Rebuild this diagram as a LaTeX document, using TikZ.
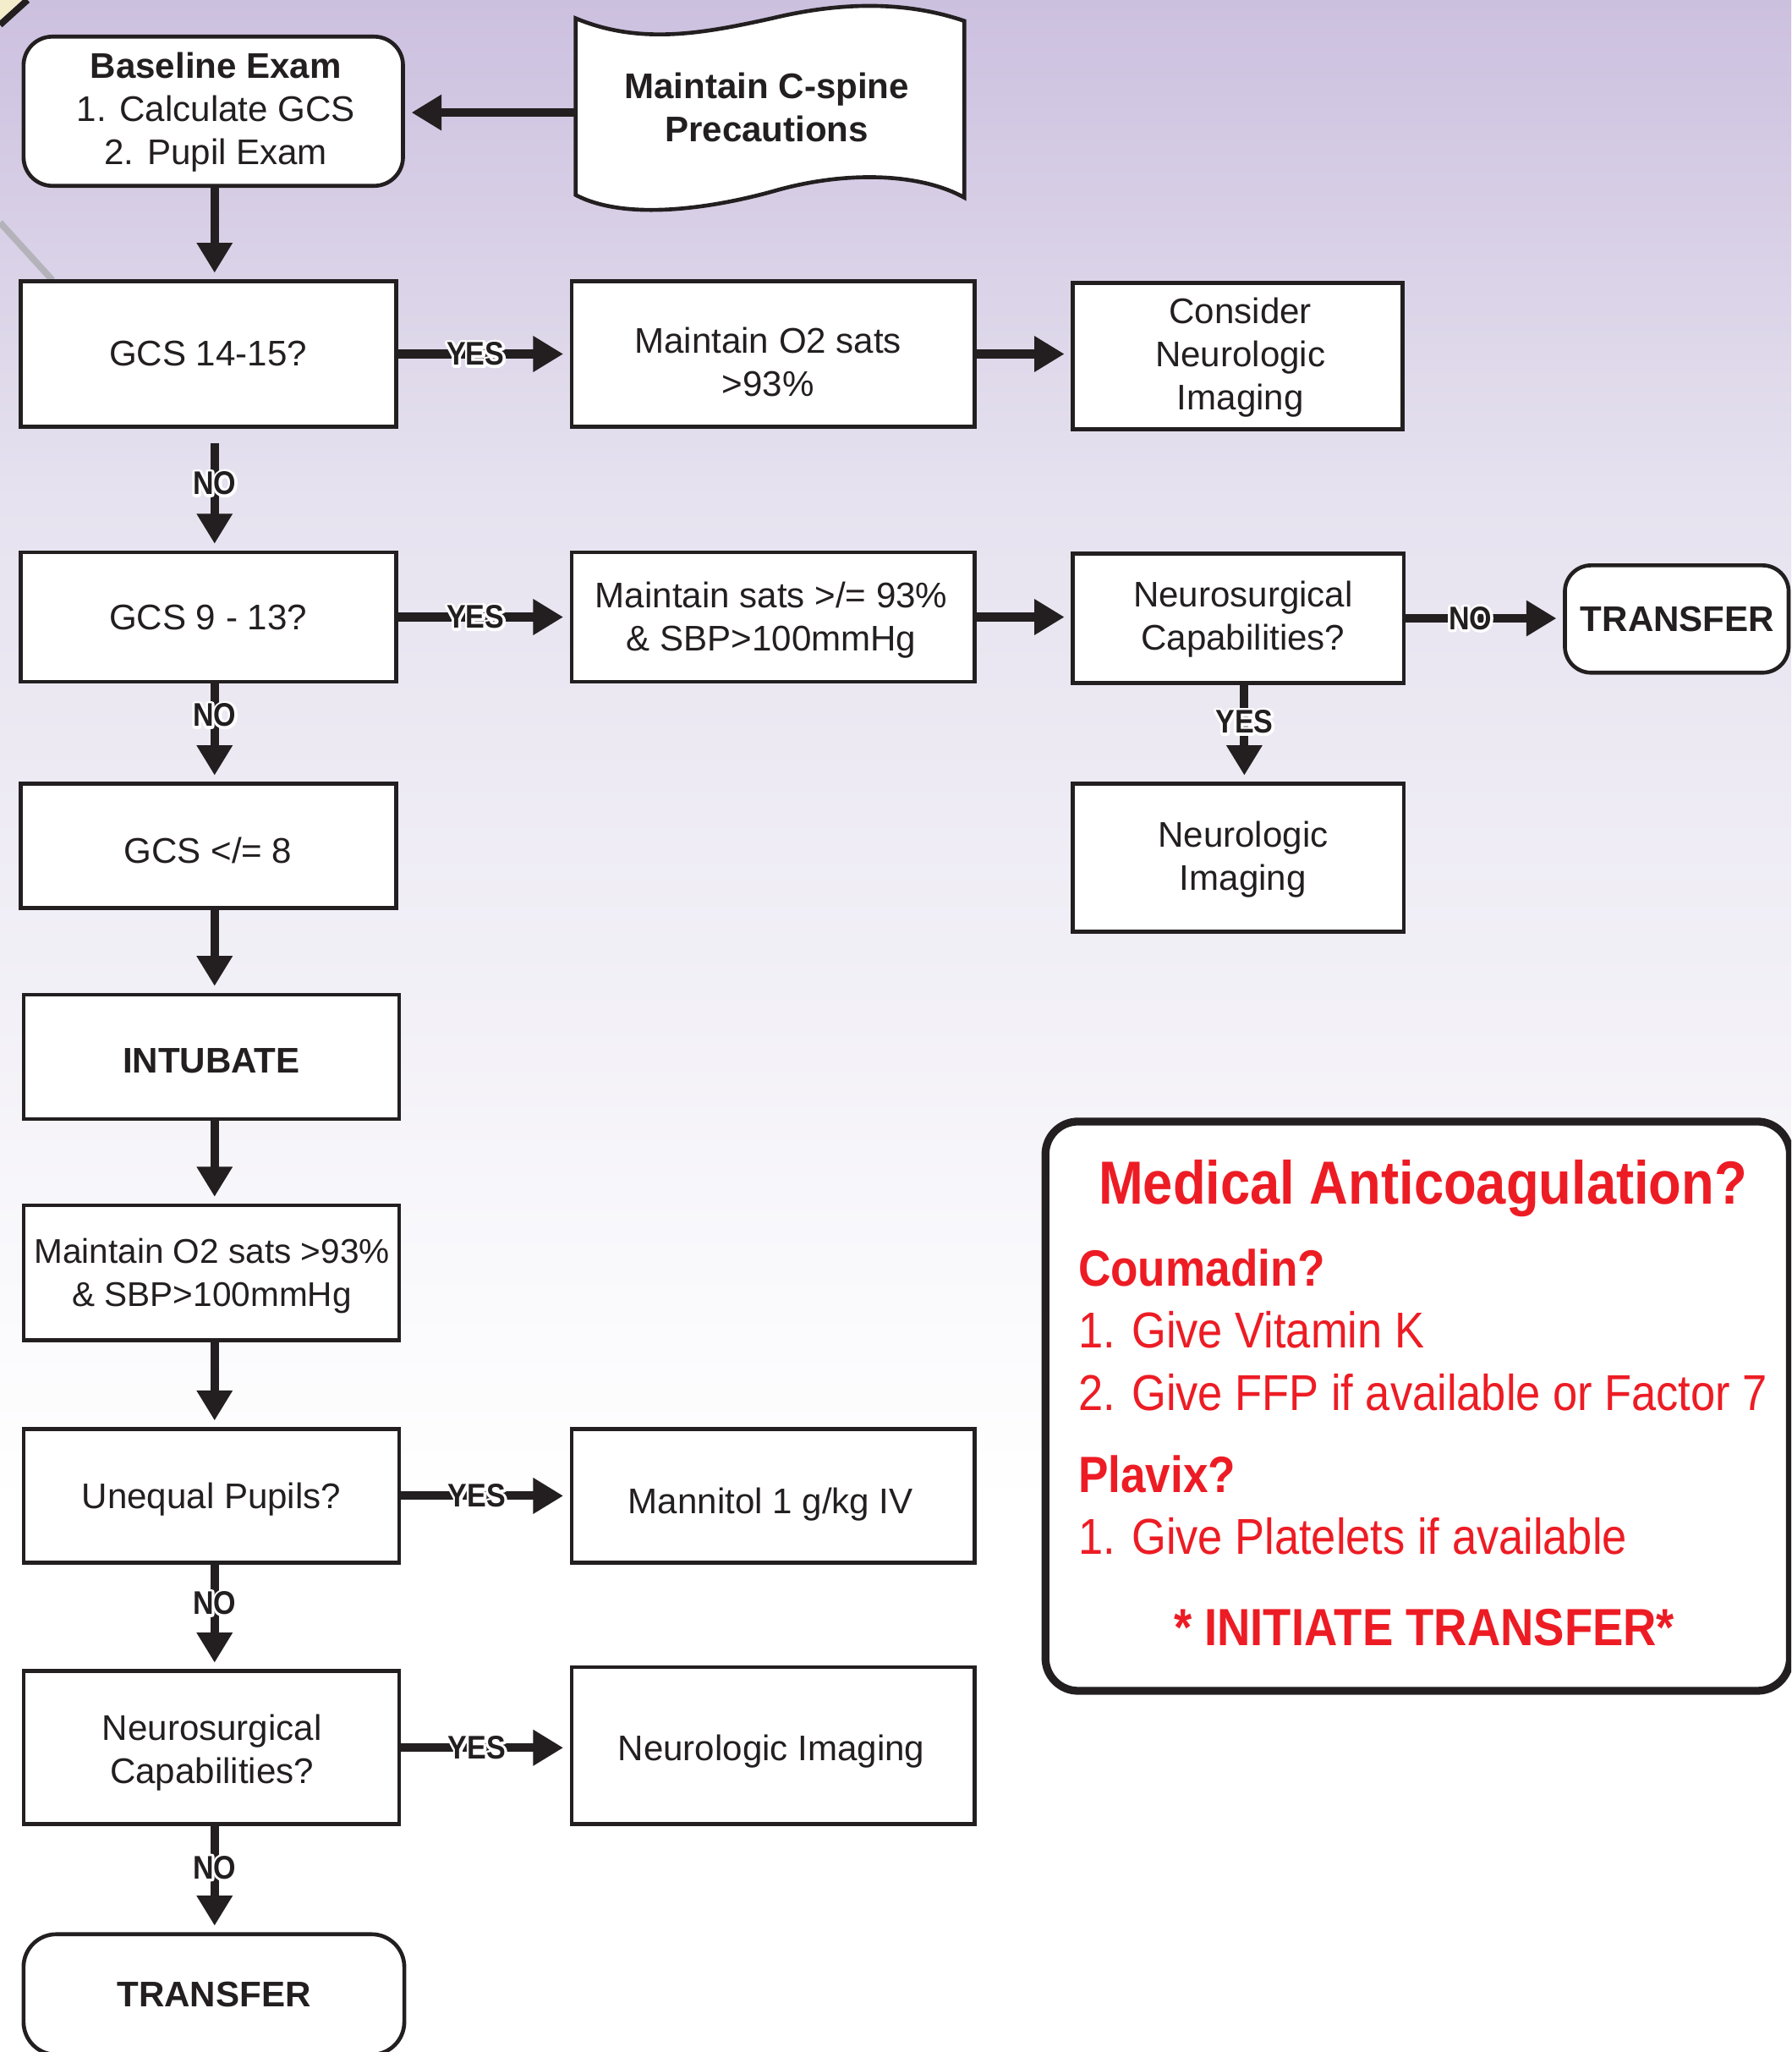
\documentclass[tikz,border=0pt]{standalone}
\usepackage{fontspec}
\setmainfont{Liberation Sans}
\newfontfamily\condfont[FakeStretch=0.88]{Liberation Sans}
\usetikzlibrary{arrows.meta,calc}
\definecolor{ink}{HTML}{231F20}
\definecolor{redtxt}{HTML}{ED1C24}
\definecolor{lavtop}{HTML}{CCC0DF}
\definecolor{lavmid}{HTML}{E6E2EF}
\definecolor{cream}{HTML}{F3EDCB}
\definecolor{greyline}{HTML}{B5B3BA}
% white outline (halo) behind a label: one stroked white copy, then the text
\newcommand\halotxt[1]{\makebox[0pt][l]{\color{white}\special{pdf:literal direct 2 Tr 4 w 1 j}#1\special{pdf:literal direct 0 Tr}}#1}
\tikzset{
 boxshape/.style={draw=ink, line width=3pt, fill=white, inner sep=0pt},
 rboxshape/.style={boxshape, rounded corners=22pt},
 btext/.style={text=ink, align=center, font=\fontsize{27.2}{33}\selectfont, inner sep=0pt},
 bbold/.style={btext, font=\bfseries\fontsize{27.2}{33}\selectfont},
 arr/.style={draw=ink, line width=6.5pt, -{Triangle[length=23pt,width=26pt]}, shorten >=5pt},
 lab/.style={text=ink, font=\condfont\bfseries\fontsize{25}{25}\selectfont, inner sep=0pt},
 redt/.style={text=redtxt, inner sep=0pt},
 redb/.style={redt, font=\condfont\bfseries\fontsize{39}{44}\selectfont},
 redn/.style={redt, font=\condfont\fontsize{38.5}{44}\selectfont},
}
\begin{document}
\begin{tikzpicture}[x=1pt,y=-1pt]
\useasboundingbox (0,0) rectangle (1369,1568);
\clip (0,0) rectangle (1369,1568);
\fill[white] (0,0) rectangle (1369,1568);
\shade[top color=lavtop, bottom color=lavmid] (0,0) rectangle (1369,380);
\shade[top color=lavmid, bottom color=white] (0,380) rectangle (1369,1150);
% corner decoration
\fill[cream] (0,0) -- (19,0) -- (0,17) -- cycle;
\draw[ink, line width=5pt] (0,19) -- (21,0);
\draw[greyline, line width=5pt] (0,170) -- (40,214);

\coordinate (lx) at (164,0);
\coordinate (rx) at (951,0);

% top
\node[rboxshape, minimum width=290pt, minimum height=114pt] (base) at (163,85) {};
\node[btext] (baset) at (165,86) {{\bfseries Baseline Exam}\\1. Calculate GCS\\2. Pupil Exam};
\draw[ink, line width=3pt, fill=white] (440,14) .. controls (490,35) and (540,25) .. (590,14) .. controls (640,2) and (690,0) .. (737,16) -- (737,151) .. controls (705,133) and (650,130) .. (595,145) .. controls (550,158) and (480,170) .. (440,149) -- cycle;
\node[bbold] (cspine) at (586,82) {Maintain C-spine\\Precautions};
\coordinate (cspinew) at (440,86);
\draw[arr] (cspinew) -- (base.east |- cspinew);

% boxes
\node[boxshape, minimum width=287pt, minimum height=111pt] (gcs14) at (159.5,270.5) {};
\node[btext] (gcs14t) at (159,270) {GCS 14-15?};
\node[boxshape, minimum width=308pt, minimum height=111pt] (o2) at (591,270.5) {};
\node[btext] (o2t) at (587,276.5) {Maintain O2 sats\\>93\%};
\node[boxshape, minimum width=252pt, minimum height=112pt] (consider) at (946,272) {};
\node[btext] (considert) at (948,273) {Consider\\Neurologic\\Imaging};
\node[boxshape, minimum width=287pt, minimum height=99pt] (gcs9) at (159.5,471.5) {};
\node[btext] (gcs9t) at (159,472) {GCS 9 - 13?};
\node[boxshape, minimum width=308pt, minimum height=99pt] (sats) at (591,471.5) {};
\node[btext] (satst) at (589.5,474) {Maintain sats >/= 93\%\\\& SBP>100mmHg};
\node[boxshape, minimum width=253pt, minimum height=99pt] (ncapR) at (946.5,472.5) {};
\node[btext] (ncapRt) at (950,473) {Neurosurgical\\Capabilities?};
\node[rboxshape, minimum width=171pt, minimum height=82pt, rounded corners=20pt] (transR) at (1281.5,473) {};
\node[bbold] (transRt) at (1282,473) {TRANSFER};
\node[boxshape, minimum width=287pt, minimum height=95pt] (gcs8) at (159.5,646.5) {};
\node[btext] (gcs8t) at (159,650) {GCS </= 8};
\node[boxshape, minimum width=253pt, minimum height=113pt] (nimgR) at (946.5,655.5) {};
\node[btext] (nimgRt) at (950,657) {Neurologic\\Imaging};
\node[boxshape, minimum width=287pt, minimum height=95pt] (intub) at (161.5,807.5) {};
\node[bbold] (intubt) at (161.5,810.5) {INTUBATE};
\node[boxshape, minimum width=287pt, minimum height=103pt] (maint) at (161.5,972.5) {};
\node[btext, font=\fontsize{26.2}{33}\selectfont] (maintt) at (162,975) {Maintain O2 sats >93\%\\\& SBP>100mmHg};
\node[boxshape, minimum width=287pt, minimum height=102pt] (unequal) at (161.5,1143) {};
\node[btext] (unequalt) at (161.5,1146) {Unequal Pupils?};
\node[boxshape, minimum width=308pt, minimum height=102pt] (mannitol) at (591,1143) {};
\node[btext] (mannitolt) at (589,1149.5) {Mannitol 1 g/kg IV};
\node[boxshape, minimum width=287pt, minimum height=117pt] (ncapL) at (161.5,1335.5) {};
\node[btext] (ncapLt) at (162,1339.5) {Neurosurgical\\Capabilities?};
\node[boxshape, minimum width=308pt, minimum height=120pt] (nimgB) at (591,1334) {};
\node[btext] (nimgBt) at (589.5,1338) {Neurologic Imaging};
\node[rboxshape, minimum width=291pt, minimum height=92pt, rounded corners=25pt] (transB) at (163.5,1524) {};
\node[bbold] (transBt) at (163.5,1524) {TRANSFER};

% connectors
\draw[arr] (base.south -| lx) -- (gcs14.north -| lx);
\draw[arr] (gcs14) -- (o2) node[lab, pos=0.45] {\halotxt{YES}};
\draw[arr] (o2.east) -- (consider.west |- o2.east);
\draw[arr, shorten <=11pt] (gcs14.south -| lx) -- (gcs9.north -| lx) node[lab, pos=0.45] {\halotxt{NO}};
\draw[arr] (gcs9) -- (sats) node[lab, pos=0.45] {\halotxt{YES}};
\draw[arr] (sats.east) -- (ncapR.west |- sats.east);
\draw[arr] (ncapR.east) -- (transR.west |- ncapR.east) node[lab, pos=0.41] {\halotxt{NO}};
\draw[arr] (ncapR.south -| rx) -- (nimgR.north -| rx) node[lab, pos=0.38] {\halotxt{YES}};
\draw[arr] (gcs9.south -| lx) -- (gcs8.north -| lx) node[lab, pos=0.32] {\halotxt{NO}};
\draw[arr] (gcs8.south -| lx) -- (intub.north -| lx);
\draw[arr] (intub.south -| lx) -- (maint.north -| lx);
\draw[arr] (maint.south -| lx) -- (unequal.north -| lx);
\draw[arr] (unequal) -- (mannitol) node[lab, pos=0.45] {\halotxt{YES}};
\draw[arr] (unequal.south -| lx) -- (ncapL.north -| lx) node[lab, pos=0.37] {\halotxt{NO}};
\draw[arr] (ncapL.east) -- (nimgB.west |- ncapL.east) node[lab, pos=0.45] {\halotxt{YES}};
\draw[arr] (ncapL.south -| lx) -- (transB.north -| lx) node[lab, pos=0.39] {\halotxt{NO}};

% anticoagulation box
\node[draw=ink, line width=6pt, fill=white, rounded corners=25pt, minimum width=569pt, minimum height=435pt, inner sep=0pt] (anticoag) at (1083.5,1074.5) {};
\node[redt, anchor=base, font=\condfont\bfseries\fontsize{46.5}{50}\selectfont] (mtitle) at (1087.5,919.8) {Medical Anticoagulation?};
\node[redb, anchor=base west] (coum) at (824,982.8) {Coumadin?};
\node[redn, anchor=base west] (vitk) at (824,1030) {1. Give Vitamin K};
\node[redn, anchor=base west] (ffp) at (824,1077.7) {2. Give FFP if available or Factor 7};
\node[redb, anchor=base west] (plavix) at (824,1140.6) {Plavix?};
\node[redn, anchor=base west] (plate) at (824,1187.5) {1. Give Platelets if available};
\node[redt, anchor=base, font=\condfont\bfseries\fontsize{40}{44}\selectfont] (initiate) at (1088.5,1257.3) {* INITIATE TRANSFER*};
\end{tikzpicture}
\end{document}
